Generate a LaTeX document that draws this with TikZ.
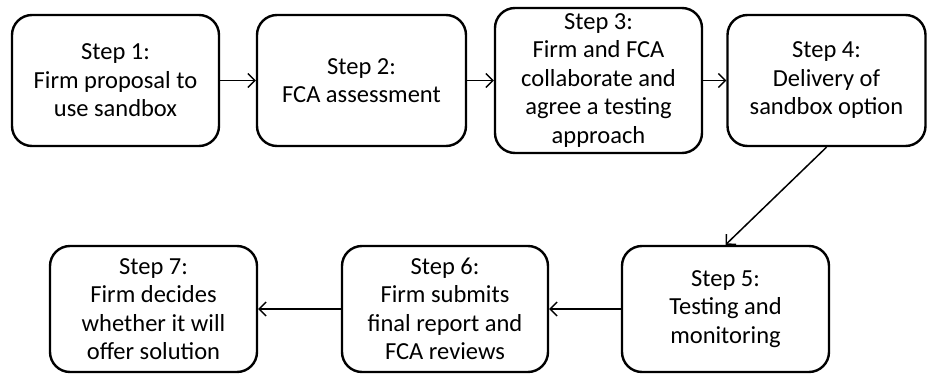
\documentclass[tikz,border=0pt]{standalone}
\usepackage{fontspec}
\setmainfont{Carlito}
\usetikzlibrary{arrows.meta}
\begin{document}
\begin{tikzpicture}[x=1pt,y=-1pt,
  stepbox/.style={draw, line width=2.4pt, rounded corners=20pt, align=center,
    inner sep=0pt, font=\fontsize{24.5}{28.5}\selectfont},
  flow/.style={-{Straight Barb[length=7pt,width=14pt,line width=1.4pt]}, line width=1.5pt}]
\useasboundingbox (0,0) rectangle (927,374);
\node[stepbox, minimum width=207pt, minimum height=131pt] (b1) at (115.5,80.5) {Step 1:\\Firm proposal to\\use sandbox};
\node[stepbox, minimum width=209pt, minimum height=131pt] (b2) at (361.5,80.5) {Step 2:\\FCA assessment};
\node[stepbox, minimum width=207pt, minimum height=145pt] (b3) at (598.5,80.5) {Step 3:\\Firm and FCA\\collaborate and\\agree a testing\\approach};
\node[stepbox, minimum width=198pt, minimum height=131pt] (b4) at (826.5,80.5) {Step 4:\\Delivery of\\sandbox option};
\node[stepbox, minimum width=207pt, minimum height=126pt] (b5) at (725.5,309) {Step 5:\\Testing and\\monitoring};
\node[stepbox, minimum width=206pt, minimum height=126pt] (b6) at (445,309) {Step 6:\\Firm submits\\final report and\\FCA reviews};
\node[stepbox, minimum width=207pt, minimum height=126pt] (b7) at (153.5,309) {Step 7:\\Firm decides\\whether it will\\offer solution};
\draw[flow] (b1) -- (b2);
\draw[flow] (b2) -- (b3);
\draw[flow] (b3) -- (b4);
\draw[flow] (b4.south) -- (b5.north);
\draw[flow] (b5) -- (b6);
\draw[flow] (b6) -- (b7);
\end{tikzpicture}
\end{document}
